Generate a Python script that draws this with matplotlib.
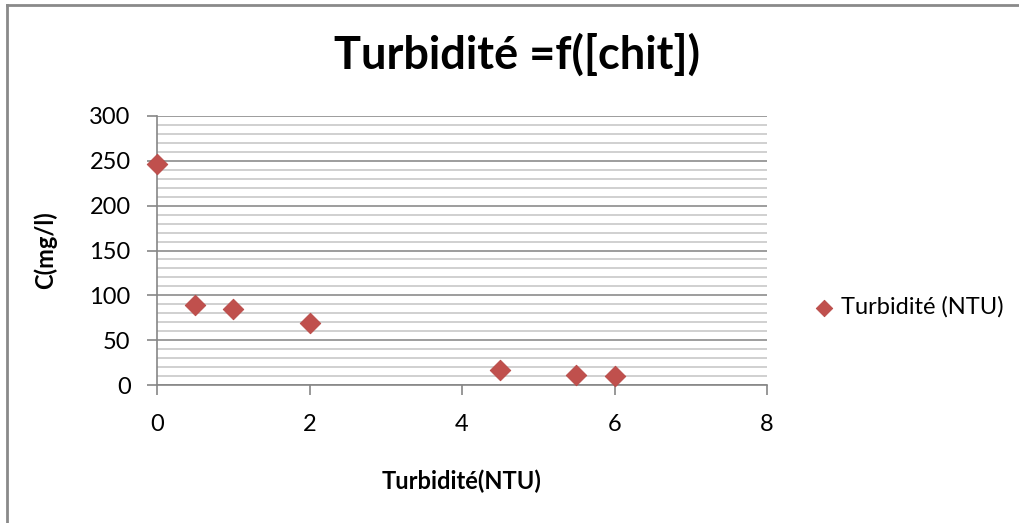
import matplotlib.pyplot as plt
from matplotlib.lines import Line2D
from matplotlib.ticker import MultipleLocator

plt.rcParams['font.family'] = ['Lato', 'DejaVu Sans']

# concentration de chitosane vs turbidité
turbidite = [0, 0.5, 1, 2, 4.5, 5.5, 6]
concentration = [246, 89, 85, 69, 17, 11, 10]

fig = plt.figure(figsize=(10.19, 5.23), dpi=100)
ax = fig.add_axes([157 / 1019, 1 - 385 / 523, 610 / 1019, 269 / 523])

ax.scatter(turbidite, concentration, marker='D', s=110, color='#C0504D',
           edgecolors='#B84A47', linewidths=0.6, zorder=3, clip_on=False,
           label='Turbidité (NTU)')

ax.set_xlim(0, 8)
ax.set_ylim(0, 300)
ax.xaxis.set_major_locator(MultipleLocator(2))
ax.yaxis.set_major_locator(MultipleLocator(50))
ax.yaxis.set_minor_locator(MultipleLocator(10))

ax.grid(axis='y', which='major', color='#8c8c8c', linewidth=1.2)
ax.grid(axis='y', which='minor', color='#c8c8c8', linewidth=1.2)
ax.set_axisbelow(True)

for s in ['top', 'right']:
    ax.spines[s].set_visible(False)
for s in ['left', 'bottom']:
    ax.spines[s].set_color('#868686')
    ax.spines[s].set_linewidth(1.2)

ax.tick_params(axis='both', which='major', direction='out', length=7,
               width=1.2, color='#868686', labelsize=17)
ax.tick_params(axis='x', pad=14)
ax.tick_params(axis='y', pad=12)
ax.tick_params(axis='y', which='minor', length=0)

ax.set_xlabel('Turbidité(NTU)', fontsize=17, fontweight='bold')
ax.set_ylabel('C(mg/l)', fontsize=17, fontweight='bold')
ax.xaxis.set_label_coords(0.5, -0.316)
ax.yaxis.set_label_coords(-0.163, 0.5)
fig.text(517 / 1019, 0.895, 'Turbidité =f([chit])', ha='center', va='center',
         fontsize=32.5, fontweight='bold')

ax.legend(loc='center left', bbox_to_anchor=(1.063, 0.29), frameon=False,
          fontsize=17, handlelength=0.8, handletextpad=0.3,
          borderaxespad=0, markerscale=0.8)

# cadre gris du graphique
fig.add_artist(Line2D([7 / 1019, 1], [1 - 5 / 523, 1 - 5 / 523],
                      color='#8a8a8a', linewidth=2))
fig.add_artist(Line2D([7 / 1019, 7 / 1019], [0, 1 - 5 / 523],
                      color='#8a8a8a', linewidth=2))

fig.savefig('out.png', dpi=100)
